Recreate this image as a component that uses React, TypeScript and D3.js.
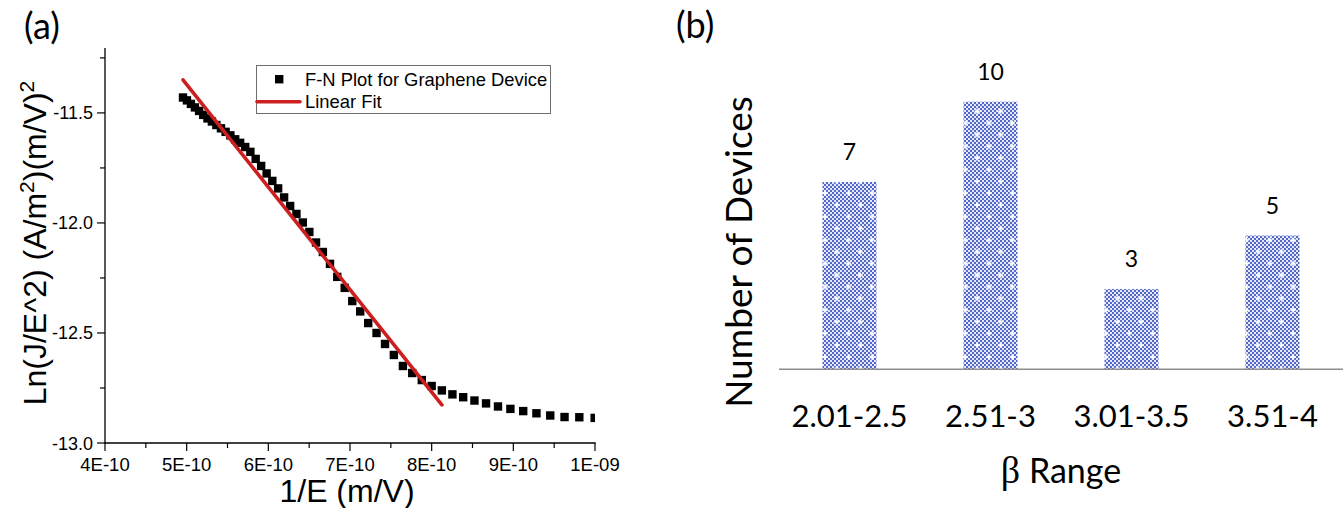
import React from 'react';
import * as d3 from 'd3';

// ---------- Panel (a) data ----------
const fnX = [
  4.955e-10, 5.003e-10, 5.052e-10, 5.101e-10, 5.152e-10, 5.203e-10, 5.255e-10, 5.309e-10, 5.364e-10, 5.42e-10,
  5.477e-10, 5.535e-10, 5.594e-10, 5.655e-10, 5.717e-10, 5.78e-10, 5.845e-10, 5.912e-10, 5.979e-10, 6.049e-10,
  6.12e-10, 6.193e-10, 6.267e-10, 6.344e-10, 6.422e-10, 6.502e-10, 6.584e-10, 6.668e-10, 6.755e-10, 6.844e-10,
  6.935e-10, 7.028e-10, 7.125e-10, 7.223e-10, 7.325e-10, 7.429e-10, 7.537e-10, 7.648e-10, 7.762e-10, 7.879e-10,
  8.0e-10, 8.125e-10, 8.254e-10, 8.386e-10, 8.524e-10, 8.666e-10, 8.812e-10, 8.964e-10, 9.121e-10, 9.283e-10,
  9.452e-10, 9.627e-10, 9.808e-10, 9.996e-10,
];
const fnY = [
  -11.43, -11.443, -11.459, -11.475, -11.491, -11.509, -11.525, -11.539, -11.555, -11.57,
  -11.586, -11.602, -11.62, -11.636, -11.655, -11.677, -11.709, -11.741, -11.775, -11.809,
  -11.843, -11.884, -11.923, -11.959, -11.998, -12.041, -12.089, -12.132, -12.186, -12.245,
  -12.295, -12.355, -12.402, -12.455, -12.5, -12.55, -12.6, -12.65, -12.682, -12.714,
  -12.741, -12.761, -12.779, -12.792, -12.807, -12.82, -12.834, -12.845, -12.855, -12.865,
  -12.875, -12.882, -12.883, -12.886,
];
const fitX = [4.955e-10, 8.125e-10];
const fitY = [-11.35, -12.827];
const xTickValues = [4e-10, 5e-10, 6e-10, 7e-10, 8e-10, 9e-10, 1e-9];
const xTickLabels = ['4E-10', '5E-10', '6E-10', '7E-10', '8E-10', '9E-10', '1E-09'];
const xMinorValues = [4.5e-10, 5.5e-10, 6.5e-10, 7.5e-10, 8.5e-10, 9.5e-10];
const yTickValues = [-11.5, -12.0, -12.5, -13.0];
const yTickLabels = ['-11.5', '-12.0', '-12.5', '-13.0'];
const yMinorValues = [-11.25, -11.75, -12.25, -12.75];
const legendLabels = ['F-N Plot for Graphene Device', 'Linear Fit'];

// ---------- Panel (b) data ----------
const categories = ['2.01-2.5', '2.51-3', '3.01-3.5', '3.51-4'];
const deviceCounts = [7, 10, 3, 5];

const W = 1343;
const H = 508;

const ARIAL = '"Liberation Sans", Arial, sans-serif';
const CAL = 'Lato, "Open Sans", sans-serif';

export default function App() {
  // panel a scales
  const xA = d3.scaleLinear().domain([4e-10, 1e-9]).range([105, 595]);
  const yA = d3.scaleLinear().domain([-13, -11.205]).range([443, 48]);
  const fitLine = d3
    .line<number>()
    .x((d, i) => xA(fitX[i]))
    .y((d) => yA(d));
  const sq = 8.4;

  // panel b scales
  const xB = d3
    .scaleBand<string>()
    .domain(categories)
    .range([779, 1343])
    .paddingInner(0.617)
    .paddingOuter(0.3085);
  const yB = d3.scaleLinear().domain([0, 10]).range([369.3, 101.7]);

  return (
    <svg
      width={W}
      height={H}
      viewBox={`0 0 ${W} ${H}`}
      style={{ position: 'absolute', left: 0, top: 0, background: '#fff' }}
    >
      <defs>
        <clipPath id="plotA">
          <rect x={105} y={40} width={490} height={403} />
        </clipPath>
        <pattern id="chk" width={4} height={4} patternUnits="userSpaceOnUse">
          <rect width={4} height={4} fill="#e4e8f8" />
          <rect width={2} height={2} fill="#5468c8" />
          <rect x={2} y={2} width={2} height={2} fill="#5468c8" />
        </pattern>
        <pattern id="dots" width={23.4} height={23.4} patternUnits="userSpaceOnUse">
          <rect x={3.6} y={5.1} width={5} height={1.8} fill="#fff" />
          <rect x={5.2} y={3.5} width={1.8} height={5} fill="#fff" />
          <rect x={15.3} y={16.8} width={5} height={1.8} fill="#fff" />
          <rect x={16.9} y={15.2} width={1.8} height={5} fill="#fff" />
        </pattern>
      </defs>

      {/* ================= Panel (a) ================= */}
      <text x={24} y={39} fontFamily={CAL} fontSize={36} fill="#000">
        (a)
      </text>

      {/* axes */}
      <line x1={105} y1={48} x2={105} y2={443.6} stroke="#000" strokeWidth={1.3} />
      <line x1={104.4} y1={443} x2={595.6} y2={443} stroke="#000" strokeWidth={1.3} />

      {xTickValues.map((v, i) => (
        <g key={'xt' + i}>
          <line x1={xA(v)} x2={xA(v)} y1={443} y2={451} stroke="#000" strokeWidth={1.2} />
          <text
            x={xA(v)}
            y={471}
            textAnchor="middle"
            fontFamily={ARIAL}
            fontSize={18.5}
            fill="#000"
          >
            {xTickLabels[i]}
          </text>
        </g>
      ))}
      {xMinorValues.map((v, i) => (
        <line key={'xm' + i} x1={xA(v)} x2={xA(v)} y1={443} y2={448} stroke="#000" strokeWidth={1.2} />
      ))}
      {yTickValues.map((v, i) => (
        <g key={'yt' + i}>
          <line x1={97} x2={105} y1={yA(v)} y2={yA(v)} stroke="#000" strokeWidth={1.2} />
          <text
            x={93}
            y={yA(v) + 6.5}
            textAnchor="end"
            fontFamily={ARIAL}
            fontSize={18}
            fill="#000"
          >
            {yTickLabels[i]}
          </text>
        </g>
      ))}
      {yMinorValues.map((v, i) => (
        <line key={'ym' + i} x1={100} x2={105} y1={yA(v)} y2={yA(v)} stroke="#000" strokeWidth={1.2} />
      ))}

      {/* axis titles */}
      <text
        x={347}
        y={501.5}
        textAnchor="middle"
        fontFamily={ARIAL}
        fontSize={32}
        fill="#000"
      >
        1/E (m/V)
      </text>
      <text
        transform="translate(45.5,243) rotate(-90)"
        textAnchor="middle"
        fontFamily={ARIAL}
        fontSize={32}
        fill="#000"
      >
        Ln(J/E^2) (A/m
        <tspan fontSize={21} dy={-12}>
          2
        </tspan>
        <tspan dy={12}>)(m/V)</tspan>
        <tspan fontSize={21} dy={-12}>
          2
        </tspan>
      </text>

      {/* data */}
      <g clipPath="url(#plotA)">
        {fnX.map((x, i) => (
          <rect
            key={'p' + i}
            x={xA(x) - sq / 2}
            y={yA(fnY[i]) - sq / 2}
            width={sq}
            height={sq}
            fill="#000"
          />
        ))}
        <path
          d={fitLine(fitY) || ''}
          fill="none"
          stroke="#cc1f1f"
          strokeWidth={3.6}
          strokeLinecap="round"
        />
      </g>

      {/* legend */}
      <rect x={256.5} y={65.5} width={294} height={48} fill="#fff" stroke="#6e6e6e" strokeWidth={1} />
      <rect x={275} y={75} width={8.4} height={8.4} fill="#000" />
      <text x={305} y={85.5} fontFamily={ARIAL} fontSize={18.4} fill="#000">
        {legendLabels[0]}
      </text>
      <line x1={257} x2={300} y1={101.7} y2={101.7} stroke="#cc1f1f" strokeWidth={3.6} strokeLinecap="round" />
      <text x={305} y={107.5} fontFamily={ARIAL} fontSize={18.4} fill="#000">
        {legendLabels[1]}
      </text>

      {/* ================= Panel (b) ================= */}
      <text x={676} y={38} fontFamily={CAL} fontSize={36} fill="#000">
        (b)
      </text>

      {categories.map((c, i) => {
        const x0 = xB(c) as number;
        const bw = xB.bandwidth();
        const y0 = yB(deviceCounts[i]);
        const h = yB(0) - y0;
        return (
          <g key={'bar' + i}>
            <rect x={x0} y={y0} width={bw} height={h} fill="url(#chk)" />
            <rect x={x0} y={y0} width={bw} height={h} fill="url(#dots)" />
            <text
              x={x0 + bw / 2}
              y={y0 - 22}
              textAnchor="middle"
              fontFamily={CAL}
              fontSize={23}
              fill="#000"
            >
              {deviceCounts[i]}
            </text>
            <text
              x={x0 + bw / 2}
              y={427}
              textAnchor="middle"
              fontFamily={CAL}
              fontSize={31}
              fill="#000"
            >
              {c}
            </text>
          </g>
        );
      })}
      <line x1={779} x2={1343} y1={yB(0)} y2={yB(0)} stroke="#8c8c8c" strokeWidth={1.5} />

      <text
        transform="translate(752,252) rotate(-90)"
        textAnchor="middle"
        fontFamily={CAL}
        fontSize={37}
        fill="#000"
      >
        Number of Devices
      </text>
      <text x={1061} y={483} textAnchor="middle" fontFamily={CAL} fontSize={34} fill="#000">
        <tspan fontFamily='"Liberation Serif", "DejaVu Serif", serif' fontSize={38}>
          β
        </tspan>{' '}
        Range
      </text>
    </svg>
  );
}
